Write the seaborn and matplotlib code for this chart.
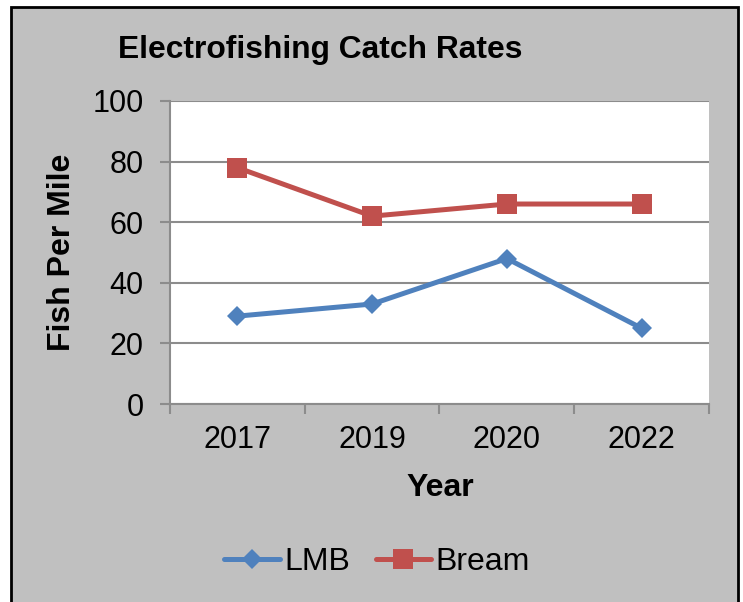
import matplotlib
matplotlib.use('Agg')
import matplotlib.pyplot as plt
import matplotlib.patches as patches
import pandas as pd
import seaborn as sns

years = ['2017', '2019', '2020', '2022']
lmb = [29, 33, 48, 25]
bream = [78, 62, 66, 66]

df = pd.DataFrame({
    'Year': years * 2,
    'Fish Per Mile': lmb + bream,
    'Species': ['LMB'] * 4 + ['Bream'] * 4,
})

sns.set_theme(style='white')
plt.rcParams['font.family'] = ['Liberation Sans', 'DejaVu Sans']
plt.rcParams['text.color'] = 'black'

W, H = 743, 602
fig = plt.figure(figsize=(W / 100, H / 100), dpi=100, facecolor='white')

# grey chart area with black frame
fig.patches.append(patches.Rectangle((11 / W, -0.05), (738 - 11) / W, 1.05 - 7 / H,
                                     transform=fig.transFigure, facecolor='#c0c0c0',
                                     edgecolor='black', linewidth=2, zorder=-1))

ax = fig.add_axes([170 / W, (H - 404) / H, (709 - 170) / W, (404 - 101) / H])
ax.set_facecolor('white')

palette = {'LMB': '#4f81bd', 'Bream': '#c0504d'}
sns.lineplot(data=df, x='Year', y='Fish Per Mile', hue='Species', style='Species',
             markers={'LMB': 'D', 'Bream': 's'}, dashes=False, palette=palette,
             linewidth=3.6, markeredgewidth=0, legend=False, ax=ax, sort=False)
for line in ax.get_lines():
    line.set_solid_capstyle('round')
    if line.get_marker() == 'D':
        line.set_markersize(10.5)
    else:
        line.set_markersize(14)

ax.set_ylim(0, 100)
ax.set_xlim(-0.5, 3.5)
ax.set_yticks([0, 20, 40, 60, 80, 100])
ax.yaxis.grid(True, color='#8c8c8c', linewidth=1.5)
ax.set_axisbelow(True)
for s in ['top', 'right']:
    ax.spines[s].set_visible(False)
for s in ['left', 'bottom']:
    ax.spines[s].set_color('#8c8c8c')
    ax.spines[s].set_linewidth(1.5)

ax.tick_params(axis='y', which='major', direction='out', length=7, width=1.5,
               color='#8c8c8c', left=True, labelsize=22, pad=12, labelcolor='black')
ax.tick_params(axis='x', which='major', length=0, labelsize=22, pad=15,
               labelcolor='black')
ax.set_xticks([-0.5, 0.5, 1.5, 2.5, 3.5], minor=True)
ax.tick_params(axis='x', which='minor', direction='out', length=7, width=1.5,
               color='#8c8c8c', bottom=True)
ax.set_xlabel('')
ax.set_ylabel('')

fig.text(118 / W, (H - 58) / H, 'Electrofishing Catch Rates', fontsize=22.9,
         fontweight='bold', ha='left', va='baseline', color='black')
fig.text(62.5 / W, (H - 252.5) / H, 'Fish Per Mile', fontsize=23, fontweight='bold',
         rotation=90, ha='center', va='center', color='black')
fig.text(440 / W, (H - 488) / H, 'Year', fontsize=23, fontweight='bold',
         ha='center', va='center', color='black')

handles = ax.get_lines()[:2]
fig.legend(handles, ['LMB', 'Bream'], loc='center', ncol=2,
           bbox_to_anchor=(377 / W, (H - 562) / H), frameon=False, fontsize=23,
           handlelength=1.75, handletextpad=0.12, columnspacing=0.8,
           labelcolor='black')

fig.savefig('out.png', dpi=100, facecolor=fig.get_facecolor())
